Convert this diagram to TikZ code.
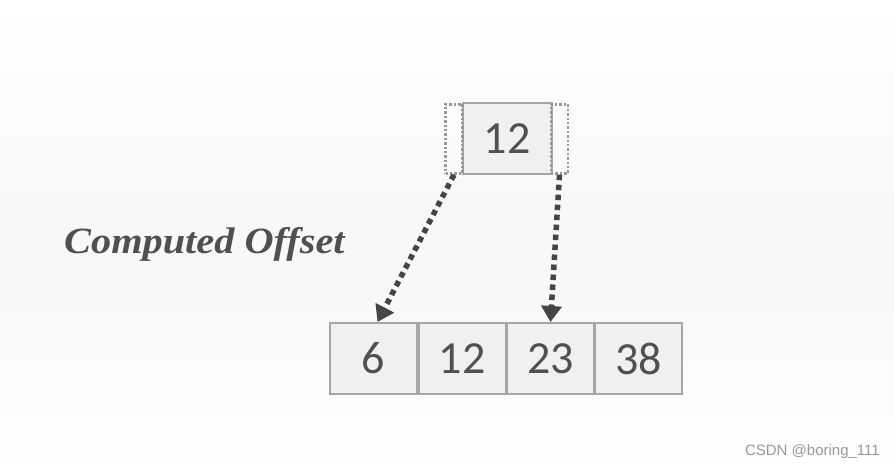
\documentclass[tikz,border=0pt]{standalone}
\usepackage{fontspec}
\newfontfamily\numfont{Carlito}
\newfontfamily\labfont{Liberation Serif}
\newfontfamily\wmfont{Liberation Sans}
\usetikzlibrary{arrows.meta}
\definecolor{bgc}{HTML}{F8F8F8}
\definecolor{cellfill}{HTML}{F0F0F0}
\definecolor{cellline}{HTML}{A6A6A6}
\definecolor{dotline}{HTML}{999999}
\definecolor{txt}{HTML}{505050}
\definecolor{arr}{HTML}{454545}
\tikzset{
  cell/.style={draw=cellline, line width=2pt, fill=cellfill, minimum width=87pt, minimum height=71pt, inner sep=0pt, text=txt, font=\numfont\fontsize{46}{46}\selectfont},
  bracket/.style={draw=dotline, line width=2.4pt, dash pattern=on 2.4pt off 2pt, minimum width=17pt, minimum height=69pt, inner sep=0pt},
  ptr/.style={draw=arr, line width=5.5pt, dash pattern=on 5.5pt off 4.5pt, -{Triangle[length=16pt,width=20pt]}}
}
\begin{document}
\begin{tikzpicture}[x=1pt,y=-1pt]
\useasboundingbox (0,0) rectangle (894,470);
\shade[top color=white, bottom color=bgc] (0,0) rectangle (894,210);
\fill[bgc] (0,210) rectangle (894,300);
\shade[top color=bgc, bottom color=white] (0,300) rectangle (894,470);
% top element
\node[cell, minimum width=89pt, minimum height=71pt] (top) at (507,139) {12};
\node[bracket] (lb) at (454,139) {};
\node[bracket] (rb) at (559.5,139) {};
% array
\node[cell] (c1) at (373.5,358.5) {6};
\node[cell] (c2) at (462,358.5) {12};
\node[cell] (c3) at (550.5,358.5) {23};
\node[cell] (c4) at (638.5,358.5) {38};
% pointers
\draw[ptr] (lb.south) -- ([xshift=4pt]c1.north);
\draw[ptr] (rb.south) -- (c3.north);
% label
\node[text=txt, font=\labfont\bfseries\itshape\fontsize{37}{37}\selectfont, anchor=west, inner sep=0pt] (lab) at (64,244) {\scalebox{1.09}[1]{Computed Offset}};
% watermark
\node[text=gray!80, font=\wmfont\fontsize{15}{15}\selectfont, anchor=east, inner sep=0pt] (wm) at (880,452) {CSDN @boring\_111};
\end{tikzpicture}
\end{document}
